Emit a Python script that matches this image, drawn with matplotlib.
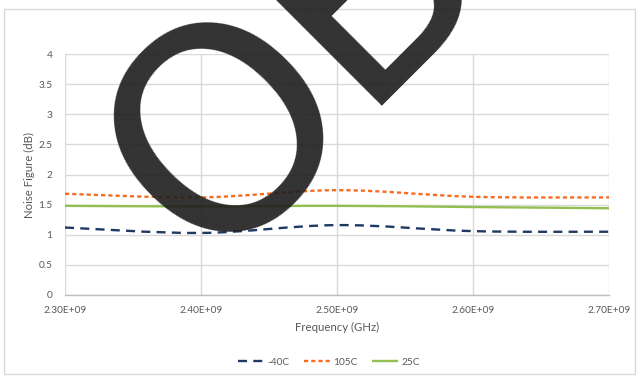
import matplotlib
matplotlib.use("Agg")
import matplotlib.pyplot as plt
from matplotlib.path import Path
from matplotlib.patches import PathPatch, Rectangle
from matplotlib.lines import Line2D
import numpy as np

plt.rcParams["lines.scale_dashes"] = False
plt.rcParams["font.family"] = ["Lato", "DejaVu Sans"]

# Measured noise figure vs frequency at three temperatures
freq_hz = [2.30e9, 2.40e9, 2.50e9, 2.60e9, 2.70e9]
nf_m40c = [1.12, 1.03, 1.16, 1.06, 1.05]
nf_105c = [1.68, 1.62, 1.74, 1.63, 1.62]
nf_25c = [1.48, 1.47, 1.48, 1.46, 1.44]

series_names = ["-40C", "105C", "25C"]
x_ticks = [2.30e9, 2.40e9, 2.50e9, 2.60e9, 2.70e9]
x_tick_labels = ["2.30E+09", "2.40E+09", "2.50E+09", "2.60E+09", "2.70E+09"]
y_ticks = [0, 0.5, 1, 1.5, 2, 2.5, 3, 3.5, 4]
y_tick_labels = ["0", "0.5", "1", "1.5", "2", "2.5", "3", "3.5", "4"]

TEXT = "#595959"
GRID = "#d9d9d9"


def smooth_path(xs, ys):
    """Catmull-Rom style cubic Bezier path through the given points."""
    pts = np.column_stack([xs, ys]).astype(float)
    n = len(pts)
    verts = [pts[0]]
    codes = [Path.MOVETO]
    for i in range(n - 1):
        p0 = pts[i - 1] if i > 0 else pts[i]
        p1 = pts[i]
        p2 = pts[i + 1]
        p3 = pts[i + 2] if i + 2 < n else pts[i + 1]
        c1 = p1 + (p2 - p0) / 6.0
        c2 = p2 - (p3 - p1) / 6.0
        verts += [c1, c2, p2]
        codes += [Path.CURVE4] * 3
    return Path(verts, codes)


fig = plt.figure(figsize=(6.39, 3.78), dpi=100)
ax = fig.add_axes([65 / 639, 1 - 295 / 378, (609 - 65) / 639, (295 - 54) / 378])

styles = [
    dict(color="#1f3864", lw=1.7, ls=(0, (6.5, 4.5))),
    dict(color="#f66d22", lw=1.7, ls=(0, (3.0, 2.2))),
    dict(color="#92c050", lw=1.7, ls="-"),
]
handles = []
for ys, st, name in zip([nf_m40c, nf_105c, nf_25c], styles, series_names):
    patch = PathPatch(smooth_path(freq_hz, ys), fill=False, edgecolor=st["color"],
                      linewidth=st["lw"], linestyle=st["ls"], capstyle="butt",
                      zorder=3)
    ax.add_patch(patch)
    handles.append(Line2D([], [], color=st["color"], lw=st["lw"], ls=st["ls"],
                          solid_capstyle="butt", dash_capstyle="butt", label=name))

ax.set_xlim(2.30e9, 2.70e9)
ax.set_ylim(0, 4)
ax.set_xticks(x_ticks)
ax.set_xticklabels(x_tick_labels)
ax.set_yticks(y_ticks)
ax.set_yticklabels(y_tick_labels)
ax.grid(True, color=GRID, lw=1.0)
ax.set_axisbelow(True)
for side in ["top", "right", "left"]:
    ax.spines[side].set_visible(False)
ax.spines["bottom"].set_color("#bfbfbf")
ax.spines["bottom"].set_linewidth(1.0)
ax.tick_params(axis="both", length=0, colors=TEXT, labelsize=7.3)
ax.tick_params(axis="x", pad=8)
ax.tick_params(axis="y", pad=9)

ax.set_xlabel("Frequency (GHz)", fontsize=8.2, color=TEXT, labelpad=5)
ax.set_ylabel("Noise Figure (dB)", fontsize=8.2, color=TEXT, labelpad=2)

fig.legend(handles=handles, loc="center", bbox_to_anchor=(0.515, 1 - 362 / 378),
           ncol=3, frameon=False, fontsize=7.3, labelcolor=TEXT,
           handlelength=2.6, handletextpad=0.3, columnspacing=1.4)

# Chart-area border
fig.add_artist(Rectangle((4 / 639, 1 - 374 / 378), 631 / 639, 365 / 378,
                         transform=fig.transFigure, fill=False,
                         edgecolor=GRID, lw=1.0))

# Large dark lettering over the chart
letter_style = dict(fontsize=204, rotation=45, rotation_mode="anchor",
                    ha="left", va="baseline", family="DejaVu Sans",
                    color="#1c1c1c", alpha=0.9, zorder=10)
fig.text(208.5 / 639, 1 - 268 / 378, "O", **letter_style)
fig.text(354 / 639, 1 - 105.5 / 378, "B", **letter_style)

fig.savefig("out.png", dpi=100)
